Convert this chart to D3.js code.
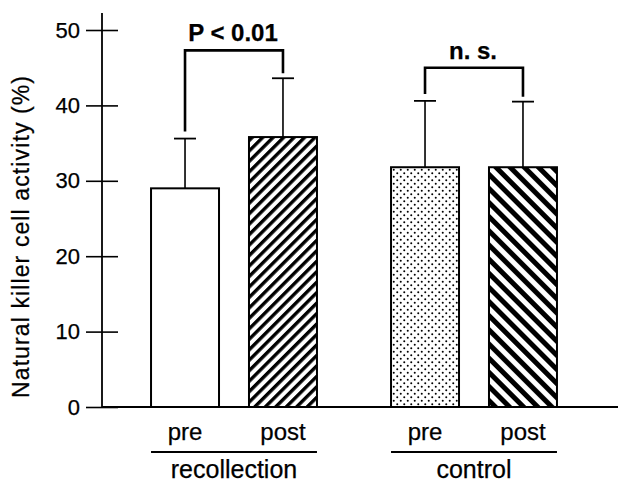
<!DOCTYPE html>
<html>
<head>
<meta charset="utf-8">
<script src="https://cdn.jsdelivr.net/npm/d3@7"></script>
<style>
  html, body { margin: 0; padding: 0; background: #fff; }
  svg { display: block; font-family: "Liberation Sans", Arial, Helvetica, sans-serif; }
  text { fill: #000; stroke: #000; stroke-width: 0.25px; }
</style>
</head>
<body>
<svg id="chart" width="618" height="483"></svg>
<script>
// ---- data ----
const groups = ["recollection", "control"];
const phases = ["pre", "post"];
const means = [29.0, 35.8, 31.8, 31.8];        // recollection pre/post, control pre/post
const errTops = [35.6, 43.6, 40.6, 40.5];      // mean + SD
const fills = ["none", "hatchThin", "dots", "hatchThick"];
const yTicks = [0, 10, 20, 30, 40, 50];
const sigLabels = ["P < 0.01", "n. s."];
const sigLevels = [47.3, 45.0];
const yLabel = "Natural killer cell activity (%)";

const bars = [];
groups.forEach((g, gi) => phases.forEach((p, pi) => {
  const i = gi * 2 + pi;
  bars.push({group: g, phase: p, value: means[i], err: errTops[i], fill: fills[i]});
}));

const svg = d3.select("#chart");
const y = d3.scaleLinear().domain([0, 50]).range([407, 30]);
const x0 = d3.scaleBand().domain(groups).range([114, 594]);
const x1 = d3.scaleBand().domain(phases).range([0, x0.bandwidth()])
  .paddingInner(0.306).paddingOuter(0.378);
const axisX = 102;

// ---- patterns ----
const defs = svg.append("defs");
const p1 = defs.append("pattern").attr("id", "hatchThin").attr("patternUnits", "userSpaceOnUse")
  .attr("width", 7.4).attr("height", 7.4).attr("patternTransform", "rotate(45)");
p1.append("rect").attr("width", 7.4).attr("height", 7.4).attr("fill", "#fff");
p1.append("rect").attr("width", 3.4).attr("height", 7.4).attr("fill", "#000");
const p2 = defs.append("pattern").attr("id", "hatchThick").attr("patternUnits", "userSpaceOnUse")
  .attr("width", 10).attr("height", 10).attr("patternTransform", "rotate(-45)");
p2.append("rect").attr("width", 10).attr("height", 10).attr("fill", "#fff");
p2.append("rect").attr("width", 5).attr("height", 10).attr("fill", "#000");
const p3 = defs.append("pattern").attr("id", "dots").attr("patternUnits", "userSpaceOnUse")
  .attr("width", 7).attr("height", 7);
p3.append("rect").attr("width", 7).attr("height", 7).attr("fill", "#fff");
p3.append("circle").attr("cx", 1.75).attr("cy", 1.75).attr("r", 1).attr("fill", "#000");
p3.append("circle").attr("cx", 5.25).attr("cy", 5.25).attr("r", 1).attr("fill", "#000");

// ---- y axis ----
const yAxis = d3.axisLeft(y).tickValues(yTicks).tickSize(16).tickPadding(6).tickFormat(d3.format("d"));
const ga = svg.append("g").attr("transform", `translate(${axisX},0)`).call(yAxis);
ga.select(".domain").remove();
ga.selectAll(".tick line").attr("x1", 16).attr("stroke", "#000").attr("stroke-width", 1.6);
ga.selectAll(".tick text").attr("font-size", 22).attr("fill", "#000")
  .attr("font-family", "'Liberation Sans', Arial, Helvetica, sans-serif");
svg.append("line").attr("x1", axisX).attr("x2", axisX).attr("y1", y(0) + 1).attr("y2", 13)
  .attr("stroke", "#000").attr("stroke-width", 1.8);
svg.append("line").attr("x1", axisX).attr("x2", 618).attr("y1", y(0)).attr("y2", y(0))
  .attr("stroke", "#000").attr("stroke-width", 2);

svg.append("text").attr("transform", `translate(29,237) rotate(-90)`)
  .attr("text-anchor", "middle").attr("font-size", 23)
  .attr("textLength", 322).attr("lengthAdjust", "spacing")
  .text(yLabel);

// ---- bars ----
const bx = d => x0(d.group) + x1(d.phase);
const bc = d => bx(d) + x1.bandwidth() / 2;
svg.append("g").selectAll("rect").data(bars).join("rect")
  .attr("x", bx).attr("width", x1.bandwidth())
  .attr("y", d => y(d.value)).attr("height", d => y(0) - y(d.value))
  .attr("fill", d => d.fill === "none" ? "#fff" : `url(#${d.fill})`)
  .attr("stroke", "#000").attr("stroke-width", 2);

// error bars
const eg = svg.append("g").attr("stroke", "#000");
eg.selectAll("line.v").data(bars).join("line").attr("class", "v")
  .attr("x1", bc).attr("x2", bc).attr("y1", d => y(d.value)).attr("y2", d => y(d.err))
  .attr("stroke-width", 1.6);
eg.selectAll("line.c").data(bars).join("line").attr("class", "c")
  .attr("x1", d => bc(d) - 11).attr("x2", d => bc(d) + 11)
  .attr("y1", d => y(d.err)).attr("y2", d => y(d.err)).attr("stroke-width", 1.8);

// significance brackets
groups.forEach((g, gi) => {
  const a = bars[gi * 2], b = bars[gi * 2 + 1];
  const top = y(sigLevels[gi]);
  const path = d3.path();
  path.moveTo(bc(a), y(a.err) - 7);
  path.lineTo(bc(a), top);
  path.lineTo(bc(b), top);
  path.lineTo(bc(b), y(b.err) - 5);
  svg.append("path").attr("d", path.toString()).attr("fill", "none")
    .attr("stroke", "#000").attr("stroke-width", 2.6);
  svg.append("text").attr("x", (bc(a) + bc(b)) / 2 - 1).attr("y", top - 9)
    .attr("text-anchor", "middle").attr("font-size", 24).attr("font-weight", "bold")
    .text(sigLabels[gi]);
});

// x labels
bars.forEach(d => {
  svg.append("text").attr("x", bc(d)).attr("y", 440).attr("text-anchor", "middle")
    .attr("font-size", 24).text(d.phase);
});
groups.forEach((g, gi) => {
  const a = bars[gi * 2], b = bars[gi * 2 + 1];
  svg.append("line").attr("x1", bx(a)).attr("x2", bx(b) + x1.bandwidth())
    .attr("y1", 452).attr("y2", 452).attr("stroke", "#000").attr("stroke-width", 1.8);
  svg.append("text").attr("x", (bc(a) + bc(b)) / 2).attr("y", 478).attr("text-anchor", "middle")
    .attr("font-size", 25).text(g);
});
</script>
</body>
</html>
